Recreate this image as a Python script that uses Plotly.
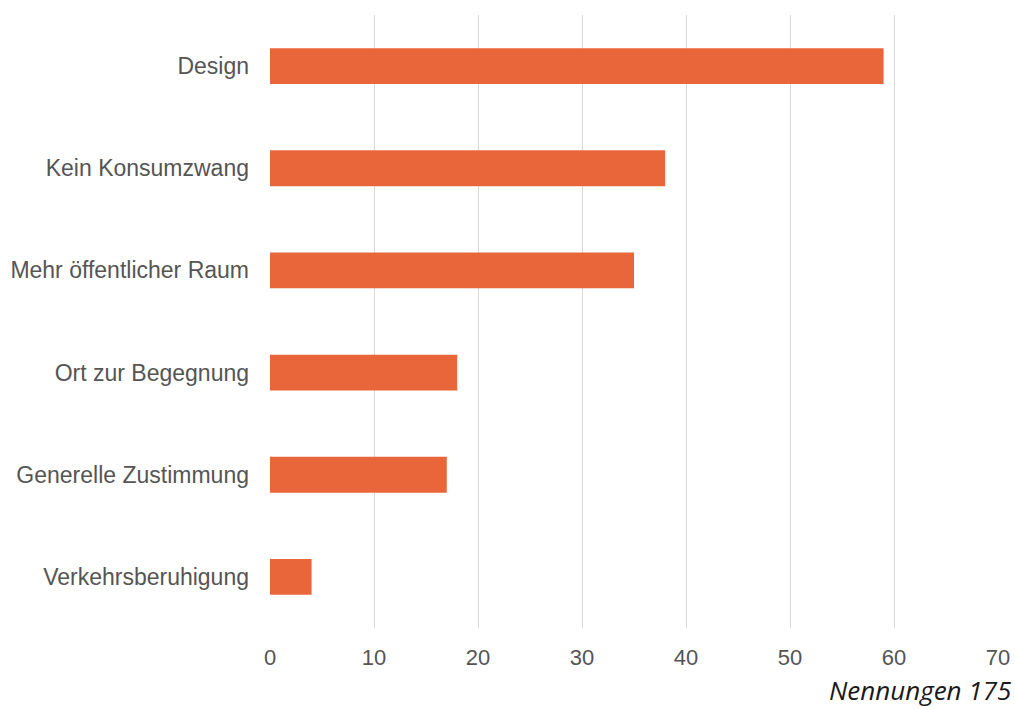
import plotly.graph_objects as go

categories = ["Design", "Kein Konsumzwang", "Mehr öffentlicher Raum",
              "Ort zur Begegnung", "Generelle Zustimmung", "Verkehrsberuhigung"]
values = [59, 38, 35, 18, 17, 4]
x_ticks = [0, 10, 20, 30, 40, 50, 60, 70]
note = "Nennungen 175"

fig = go.Figure(go.Bar(
    y=categories, x=values, orientation="h",
    marker=dict(color="#E8663A", line=dict(width=0)),
    width=0.35,
))

fig.update_layout(
    width=1015, height=709,
    margin=dict(l=270, r=17, t=15, b=81, autoexpand=False),
    paper_bgcolor="white", plot_bgcolor="white",
    showlegend=False,
    font=dict(family="Liberation Sans, Arial, sans-serif", size=22, color="#555555"),
    xaxis=dict(range=[0, 70], tickvals=x_ticks, showgrid=True, gridcolor="#d9d9d9",
               gridwidth=1, zeroline=False, showline=False, ticks="",
               ticklabelstandoff=14, fixedrange=True, automargin=False,
               tickfont=dict(size=22)),
    yaxis=dict(categoryorder="array", categoryarray=categories[::-1],
               showgrid=False, zeroline=False, showline=False, ticks="",
               automargin=False, fixedrange=True,
               ticklabelstandoff=20, tickfont=dict(size=23)),
    annotations=[dict(text=note, xref="paper", yref="paper", x=1.0, y=0,
                      xanchor="right", yanchor="middle", yshift=-62, xshift=14,
                      showarrow=False, borderpad=0,
                      font=dict(family="Open Sans", size=26, color="#1a1a1a", style="italic"))],
)

fig.write_html(
    "out.html",
    config={"responsive": False, "displayModeBar": False},
    post_script="document.body.style.margin='0';document.body.style.overflow='hidden';",
)
